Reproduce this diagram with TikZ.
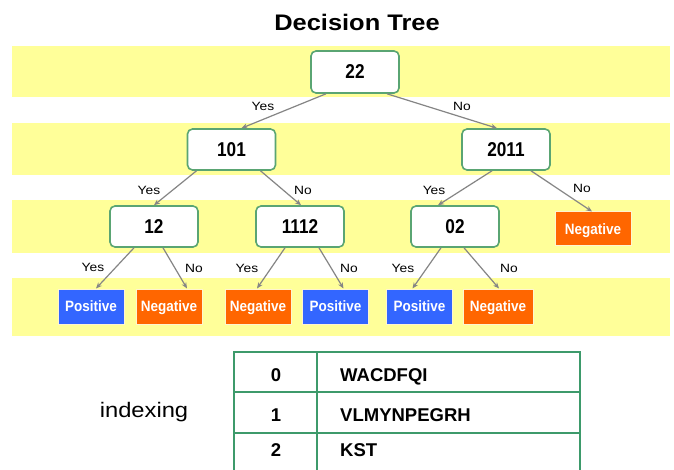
\documentclass[tikz,border=0pt]{standalone}
\usepackage{fontspec}
\setmainfont{Liberation Sans}
\newfontfamily\ttlfnt{Liberation Sans}[FakeStretch=1.13]
\newfontfamily\ndfnt{Liberation Sans}[FakeStretch=0.86]
\newfontfamily\lffnt{Liberation Sans}[FakeStretch=0.9]
\newfontfamily\ynfnt{Liberation Sans}[FakeStretch=1.15]
\usetikzlibrary{arrows.meta,calc}
\definecolor{bandyellow}{HTML}{FFFF99}
\definecolor{nodegreen}{HTML}{5AA573}
\definecolor{posblue}{HTML}{3366FF}
\definecolor{negorange}{HTML}{FF6600}
\definecolor{edgegray}{HTML}{858585}
\definecolor{tablegreen}{HTML}{3D9A6B}
\definecolor{leafedge}{HTML}{FFF4D0}
\begin{document}
\begin{tikzpicture}[x=1pt,y=-1pt,
  decision/.style={draw=nodegreen, line width=1.6pt, fill=white, rounded corners=5pt,
    minimum width=88pt, minimum height=41pt, inner sep=0pt,
    font=\ndfnt\fontsize{20}{22}\selectfont\bfseries},
  leafbox/.style={draw=leafedge, line width=1pt, minimum height=35pt, minimum width=66pt,
    inner sep=0pt, text=white, text height=10.7pt, text depth=0pt,
    font=\lffnt\fontsize{15}{17}\selectfont\bfseries},
  posleaf/.style={leafbox, fill=posblue},
  negleaf/.style={leafbox, fill=negorange},
  arrowedge/.style={draw=edgegray, line width=1.2pt, -{Stealth[length=6pt,width=5pt]}},
  lbl/.style={font=\ynfnt\fontsize{12}{14}\selectfont, inner sep=0pt},
  tline/.style={draw=tablegreen, line width=1.8pt},
  tcell/.style={font=\fontsize{18.5}{21}\selectfont\bfseries, inner sep=0pt,
    text height=13.3pt, text depth=0pt}
]
\useasboundingbox (0,0) rectangle (674,470);
\clip (0,0) rectangle (674,470);
\fill[white] (0,0) rectangle (674,470);

% bands
\fill[bandyellow] (12,46) rectangle (670,97);
\fill[bandyellow] (12,123) rectangle (670,175);
\fill[bandyellow] (12,200) rectangle (670,253);
\fill[bandyellow] (12,278) rectangle (670,336);

% title
\node[font=\ttlfnt\fontsize{22.5}{26}\selectfont\bfseries, inner sep=0pt] (title) at (357,22) {Decision Tree};

% decision nodes
\node[decision, minimum height=42pt] (n22) at (355,72) {22};
\node[decision] (n101) at (231.5,149.5) {101};
\node[decision] (n2011) at (506,149.5) {2011};
\node[decision] (n12) at (154,226.5) {12};
\node[decision] (n1112) at (300,226.5) {1112};
\node[decision] (n02) at (455,226.5) {02};

% leaves
\node[negleaf, minimum width=76pt, minimum height=34pt] (l2011n) at (593,229) {Negative};
\node[posleaf] (l12y) at (91,306.5) {Positive};
\node[negleaf] (l12n) at (169,306.5) {Negative};
\node[negleaf] (l1112y) at (258,306.5) {Negative};
\node[posleaf] (l1112n) at (335.5,306.5) {Positive};
\node[posleaf] (l02y) at (419.5,306.5) {Positive};
\node[negleaf, minimum width=70pt] (l02n) at (498,306.5) {Negative};

% edges
\draw[arrowedge] ([xshift=-29pt]n22.south) -- ([xshift=10pt]n101.north);
\draw[arrowedge] ([xshift=32pt]n22.south) -- ([xshift=-9pt]n2011.north);
\draw[arrowedge] ([xshift=-35pt]n101.south) -- ([xshift=0pt]n12.north);
\draw[arrowedge] ([xshift=29pt]n101.south) -- ([xshift=1pt]n1112.north);
\draw[arrowedge] ([xshift=-14pt]n2011.south) -- ([xshift=-17pt]n02.north);
\draw[arrowedge] ([xshift=25pt]n2011.south) -- ([xshift=-1pt]l2011n.north);
\draw[arrowedge] ([xshift=-20pt]n12.south) -- ([xshift=5pt]l12y.north);
\draw[arrowedge] ([xshift=9pt]n12.south) -- ([xshift=18pt]l12n.north);
\draw[arrowedge] ([xshift=-15pt]n1112.south) -- ([xshift=-1pt]l1112y.north);
\draw[arrowedge] ([xshift=19pt]n1112.south) -- ([xshift=8pt]l1112n.north);
\draw[arrowedge] ([xshift=-14pt]n02.south) -- ([xshift=-7pt]l02y.north);
\draw[arrowedge] ([xshift=9pt]n02.south) -- ([xshift=1pt]l02n.north);

% edge labels
\node[lbl] (y1) at (263,106) {Yes};
\node[lbl] (no1) at (462,106) {No};
\node[lbl] (y2a) at (149,190) {Yes};
\node[lbl] (no2a) at (303,190) {No};
\node[lbl] (y2b) at (434,190) {Yes};
\node[lbl] (no2b) at (582,188) {No};
\node[lbl] (y3a) at (93,267) {Yes};
\node[lbl] (no3a) at (194,268) {No};
\node[lbl] (y3b) at (247,268) {Yes};
\node[lbl] (no3b) at (349,268) {No};
\node[lbl] (y3c) at (403,268) {Yes};
\node[lbl] (no3c) at (509,268) {No};

% indexing table
\node[font=\ttlfnt\fontsize{21}{25}\selectfont, inner sep=0pt] (idx) at (144,412) {indexing};
\draw[tline] (234,480) -- (234,352) -- (580,352) -- (580,480);
\draw[tline] (317,352) -- (317,480);
\draw[tline] (234,392) -- (580,392);
\draw[tline] (234,433) -- (580,433);
\node[tcell] (k0) at (276,374.5) {0};
\node[tcell] (k1) at (276,415) {1};
\node[tcell] (k2) at (276,449.5) {2};
\node[tcell, anchor=west] (v0) at (340,374.5) {WACDFQI};
\node[tcell, anchor=west] (v1) at (340,415) {VLMYNPEGRH};
\node[tcell, anchor=west] (v2) at (340,449.5) {KST};
\end{tikzpicture}
\end{document}
